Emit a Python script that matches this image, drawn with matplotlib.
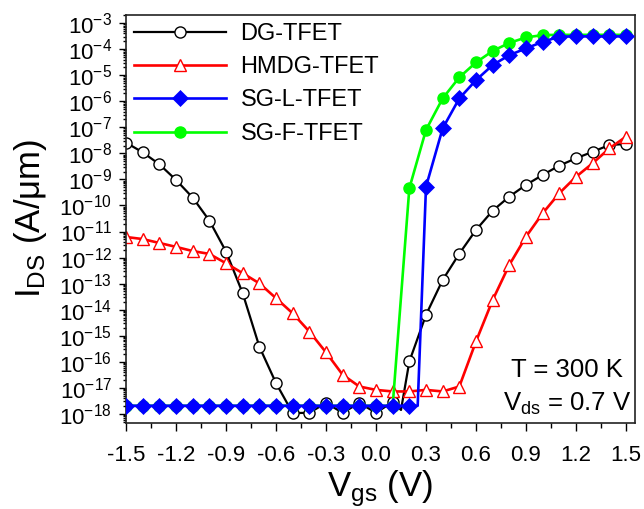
import numpy as np
import matplotlib
matplotlib.use("Agg")
import matplotlib.pyplot as plt
from matplotlib.ticker import LogLocator, MultipleLocator, NullFormatter

plt.rcParams.update({
    "font.family": ["Liberation Sans", "DejaVu Sans"],
    "mathtext.fontset": "custom",
    "mathtext.rm": "Liberation Sans",
    "mathtext.it": "Liberation Sans:italic",
    "mathtext.bf": "Liberation Sans:bold",
    "axes.unicode_minus": False,
})

# ── transfer characteristics, log10(I_DS) vs V_gs ───────────────────────────
vgs = [-1.5, -1.4, -1.3, -1.2, -1.1, -1.0, -0.9, -0.8, -0.7, -0.6, -0.5,
       -0.4, -0.3, -0.2, -0.1, 0.0, 0.1, 0.2, 0.3, 0.4, 0.5, 0.6, 0.7,
       0.8, 0.9, 1.0, 1.1, 1.2, 1.3, 1.4, 1.5]

dg_vgs = [-1.5, -1.4, -1.3, -1.2, -1.1, -1.0, -0.9, -0.8, -0.7, -0.6, -0.5,
          -0.4, -0.3, -0.2, -0.1, 0.0, 0.1, 0.15, 0.2, 0.3, 0.4, 0.5, 0.6,
          0.7, 0.8, 0.9, 1.0, 1.1, 1.2, 1.3, 1.4, 1.5]
dg_log = [-7.59, -7.96, -8.42, -9.02, -9.70, -10.58, -11.77, -13.37, -15.42,
          -16.82, -17.97, -17.96, -17.58, -17.96, -17.58, -17.96, -17.54,
          -17.85, -15.99, -14.20, -12.86, -11.85, -10.94, -10.20, -9.66,
          -9.21, -8.83, -8.47, -8.19, -7.94, -7.68, -7.64]

hmdg_log = [-11.21, -11.29, -11.44, -11.59, -11.75, -11.86, -12.22, -12.60,
            -12.99, -13.56, -14.14, -14.84, -15.64, -16.50, -16.95, -17.08,
            -17.14, -17.14, -17.08, -17.14, -16.95, -15.22, -13.63, -12.28,
            -11.20, -10.30, -9.53, -8.90, -8.38, -7.81, -7.36]

sgl_vgs = [-1.5, -1.4, -1.3, -1.2, -1.1, -1.0, -0.9, -0.8, -0.7, -0.6, -0.5,
           -0.4, -0.3, -0.2, -0.1, 0.0, 0.1, 0.2, 0.25, 0.3, 0.4, 0.5, 0.6,
           0.7, 0.8, 0.9, 1.0, 1.1, 1.2, 1.3, 1.4, 1.5]
sgl_log = [-17.69] * 19 + [-9.28, -7.04, -5.89, -5.19, -4.61, -4.23, -3.97,
                           -3.72, -3.52, -3.51, -3.51, -3.51, -3.51]

sgf_log = [-17.69] * 17 + [-9.34, -7.10, -5.89, -5.08, -4.51, -4.07, -3.76,
                           -3.55, -3.46, -3.45, -3.45, -3.45, -3.45, -3.45]

fig = plt.figure(figsize=(6.44, 5.09), dpi=100)
ax = fig.add_axes([0.1957, 0.169, 0.7903, 0.8025])

ax.plot(dg_vgs, 10.0 ** np.array(dg_log), color="black", lw=1.6,
        marker="o", ms=8, mfc="white", mec="black", mew=1.0,
        markevery=[i for i, v in enumerate(dg_vgs) if v != 0.15],
        label="DG-TFET")
ax.plot(vgs, 10.0 ** np.array(hmdg_log), color="#FF0000", lw=1.9,
        marker="^", ms=9, mfc="white", mec="#FF0000", mew=1.0,
        label="HMDG-TFET")
ax.plot(vgs, 10.0 ** np.array(sgf_log), color="#00FF00", lw=1.9,
        marker="o", ms=8, mfc="#00FF00", mec="#00FF00",
        label="SG-F-TFET", zorder=3)
ax.plot(sgl_vgs, 10.0 ** np.array(sgl_log), color="#0000FF", lw=1.9,
        marker="D", ms=7.8, mfc="#0000FF", mec="#0000FF", mew=0.5,
        markevery=[i for i, v in enumerate(sgl_vgs) if v != 0.25],
        label="SG-L-TFET", zorder=4)

ax.set_yscale("log")
ax.set_xlim(-1.5, 1.554)
ax.set_ylim(10 ** -18.35, 10 ** -2.67)

ax.set_xticks(vgs[::3])
ax.set_xticklabels([f"{v:.1f}" for v in vgs[::3]])
ax.xaxis.set_minor_locator(MultipleLocator(0.15))
ax.yaxis.set_major_locator(LogLocator(base=10, numticks=30))
ax.yaxis.set_minor_locator(LogLocator(base=10, subs=np.arange(2, 10), numticks=200))
ax.yaxis.set_minor_formatter(NullFormatter())

ax.tick_params(which="both", direction="out", top=False, right=False,
               labelsize=16, width=1.0)
ax.tick_params(axis="x", which="major", length=6, pad=10)
ax.tick_params(axis="x", which="minor", length=3.5)
ax.tick_params(axis="y", which="major", length=5, pad=5)
ax.tick_params(axis="y", which="minor", length=2.5)
for sp in ax.spines.values():
    sp.set_linewidth(1.2)
    sp.set_color("#222222")

ax.set_xlabel(r"V$_{\mathrm{gs}}$ (V)", fontsize=25)
ax.set_ylabel(r"I$_{\mathrm{DS}}$ (A/μm)", fontsize=25)
ax.xaxis.set_label_coords(0.5, -0.11)
ax.yaxis.set_label_coords(-0.151, 0.5)

h, l = ax.get_legend_handles_labels()
order = [0, 1, 3, 2]
ax.legend([h[i] for i in order], [l[i] for i in order], loc="upper left",
          frameon=False, fontsize=17, handlelength=3.9, handletextpad=0.6,
          labelspacing=0.48, borderpad=0.2, borderaxespad=0.15)

ax.text(0.976, 0.112, "T = 300 K", transform=ax.transAxes, ha="right",
        va="baseline", fontsize=18.5)
ax.text(0.994, 0.029, r"V$_{\mathrm{ds}}$ = 0.7 V", transform=ax.transAxes,
        ha="right", va="baseline", fontsize=18.5)

fig.savefig("out.png", dpi=100)
